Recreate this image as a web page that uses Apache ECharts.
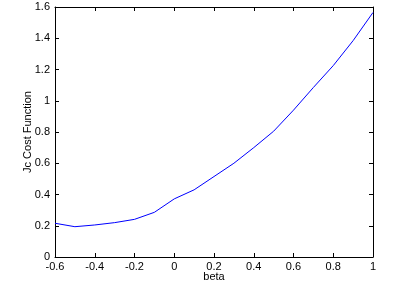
<!DOCTYPE html>
<html>
<head>
<meta charset="utf-8">
<script src="https://cdn.jsdelivr.net/npm/echarts@6/dist/echarts.min.js"></script>
<style>
  html, body { margin: 0; padding: 0; background: #ffffff; }
  #chart { width: 408px; height: 282px; }
</style>
</head>
<body>
<div id="chart"></div>
<script>
// beta values and the cost
const betaValues = [-0.6, -0.5, -0.4, -0.3, -0.2, -0.1, 0, 0.1, 0.2, 0.3, 0.4, 0.5, 0.6, 0.7, 0.8, 0.9, 1.0]
const costValues = [0.216, 0.194, 0.205, 0.22, 0.241, 0.286, 0.372, 0.43, 0.515, 0.6, 0.7, 0.805, 0.94, 1.085, 1.225, 1.385, 1.565]

const myChart = echarts.init(document.getElementById('chart'))
const fontFamily = 'Liberation Sans, Arial, sans-serif'
const axisLine = { show: true, onZero: false, lineStyle: { color: '#000', width: 1 } }
const axisTick = { show: true, inside: true, length: 4, lineStyle: { color: '#000' } }

const option = {
  animation: false,
  backgroundColor: '#ffffff',
  grid: { left: 55, top: 7, right: 35, bottom: 25, containLabel: false, outerBoundsMode: 'none' },
  xAxis: [
    {
      type: 'value',
      min: -0.6,
      max: 1,
      interval: 0.2,
      name: 'beta',
      nameLocation: 'middle',
      nameGap: 14,
      nameMoveOverlap: false,
      nameTextStyle: { color: '#000', fontSize: 11, fontFamily },
      axisLine,
      axisTick,
      splitLine: { show: false },
      axisLabel: { color: '#000', fontSize: 11, fontFamily, margin: 4 }
    },
    {
      type: 'value',
      position: 'top',
      min: -0.6,
      max: 1,
      interval: 0.2,
      axisLine,
      axisTick,
      splitLine: { show: false },
      axisLabel: { show: false }
    }
  ],
  yAxis: [
    {
      type: 'value',
      min: 0,
      max: 1.6,
      interval: 0.2,
      name: 'Jc Cost Function',
      nameLocation: 'middle',
      nameGap: 22,
      nameMoveOverlap: false,
      nameTextStyle: { color: '#000', fontSize: 11, fontFamily },
      axisLine,
      axisTick,
      splitLine: { show: false },
      axisLabel: { color: '#000', fontSize: 11, fontFamily, margin: 5 }
    },
    {
      type: 'value',
      position: 'right',
      min: 0,
      max: 1.6,
      interval: 0.2,
      axisLine,
      axisTick,
      splitLine: { show: false },
      axisLabel: { show: false }
    }
  ],
  series: [
    {
      type: 'line',
      data: betaValues.map((b, i) => [b, costValues[i]]),
      showSymbol: false,
      lineStyle: { color: '#0000ff', width: 1 },
      xAxisIndex: 0,
      yAxisIndex: 0
    }
  ]
}
myChart.setOption(option)
</script>
</body>
</html>
